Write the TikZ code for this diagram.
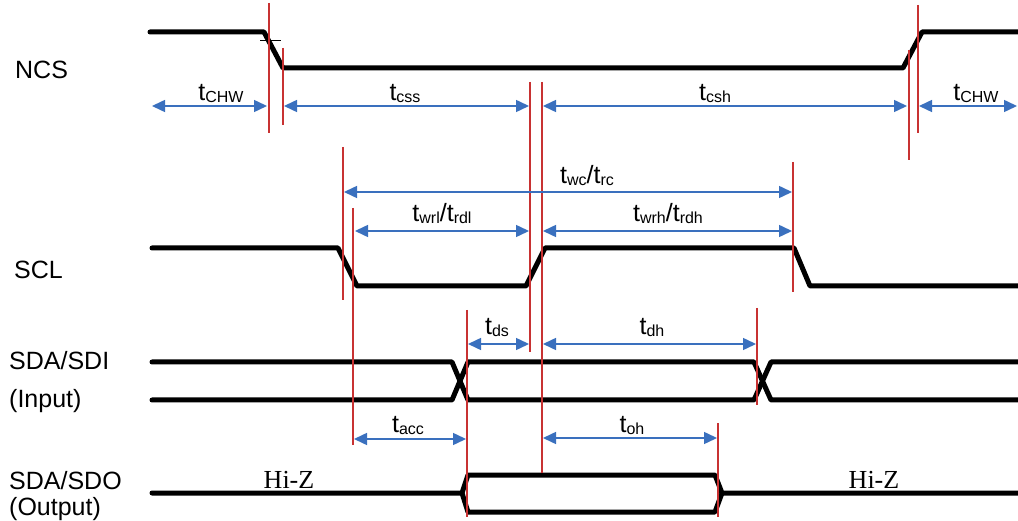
\documentclass[tikz,border=0pt]{standalone}
\usepackage{fontspec}
\setmainfont{Liberation Sans}
\newfontfamily\hizfont{Liberation Serif}
\usetikzlibrary{arrows.meta}
\definecolor{dimblue}{RGB}{58,112,190}
\definecolor{markred}{RGB}{200,50,50}
\newcommand{\tsub}[1]{t\raisebox{-2pt}{\fontsize{16}{16}\selectfont #1}}

\begin{document}
\begin{tikzpicture}[x=1pt,y=-1pt,
    sig/.style={line width=5pt,line cap=round,line join=round},
    redmark/.style={draw=markred,line width=1.1pt},
    tipblue/.tip={Triangle[length=13pt 0 0,width=12pt 0 0]},
    dim/.style={draw=dimblue,fill=dimblue,line width=1.5pt,tipblue-tipblue},
    siglbl/.style={font=\fontsize{25}{25}\selectfont,inner sep=0pt,anchor=base west},
    tlbl/.style={font=\fontsize{25}{25}\selectfont,inner sep=0pt,anchor=base},
    hiz/.style={font=\hizfont\fontsize{26}{26}\selectfont,inner sep=0pt,anchor=base}]
  \fill[white] (0,0) rectangle (1018,521);
  \useasboundingbox (0,0) rectangle (1018,521);

  % signal names
  \node[siglbl] (ncs) at (15,79) {NCS};
  \node[siglbl] (scl) at (14,279) {SCL};
  \node[siglbl] (sdi) at (9,370) {SDA/SDI};
  \node[siglbl] (sdiin) at (9,407) {(Input)};
  \node[siglbl] (sdo) at (9,489) {SDA/SDO};
  \node[siglbl] (sdoout) at (9,515) {(Output)};

  % waveforms
  \draw[sig] (150,32) -- (264,32) -- (283,68) -- (903,68) -- (922,32) -- (1018,32);
  \draw[sig] (152,248) -- (338,248) -- (357,286) -- (526,286) -- (545,248)
    -- (794,248) -- (810,286) -- (1018,286);
  \draw[sig] (152,362) -- (452,362) -- (468,400) -- (754,400) -- (771,362) -- (1018,362);
  \draw[sig] (152,400) -- (452,400) -- (468,362) -- (754,362) -- (771,400) -- (1018,400);
  \draw[sig] (152,493) -- (462,493) -- (468,475) -- (715,475) -- (722,493) -- (1018,493);
  \draw[sig] (462,493) -- (468,512) -- (715,512) -- (722,493);
  \draw[line width=0.8pt] (260,40) -- (281,40);

  % timing marks
  \foreach \x/\ya/\yb in {269/3/133, 283/48/125, 343/147/300, 353/208/445,
      530/82/352, 542/82/473, 793/162/292, 909/50/160, 918/5/133,
      467/310/517, 757/308/405, 718/423/517}
    \draw[redmark] (\x,\ya) -- (\x,\yb);

  % timing arrows
  \draw[dim] (152,106) -- (267,106);
  \draw[dim] (284,106) -- (529,106);
  \draw[dim] (543,106) -- (907,106);
  \draw[dim] (919,106) -- (1017,106);
  \draw[dim] (344,192) -- (792,192);
  \draw[dim] (355,231) -- (529,231);
  \draw[dim] (543,231) -- (792,231);
  \draw[dim] (468,344) -- (529,344);
  \draw[dim] (543,344) -- (756,344);
  \draw[dim] (354,439) -- (466,439);
  \draw[dim] (543,438) -- (717,438);

  % timing labels
  \node[tlbl] (tchwa) at (221,101) {\tsub{CHW}};
  \node[tlbl] (tcss) at (405,101) {\tsub{css}};
  \node[tlbl] (tcsh) at (715,101) {\tsub{csh}};
  \node[tlbl] (tchwb) at (976,101) {\tsub{CHW}};
  \node[tlbl] (twc) at (587,184) {\tsub{wc}/\tsub{rc}};
  \node[tlbl] (twrl) at (442,222) {\tsub{wrl}/\tsub{rdl}};
  \node[tlbl] (twrh) at (668,222) {\tsub{wrh}/\tsub{rdh}};
  \node[tlbl] (tds) at (497,335) {\tsub{ds}};
  \node[tlbl] (tdh) at (652,335) {\tsub{dh}};
  \node[tlbl] (tacc) at (408,432) {\tsub{acc}};
  \node[tlbl] (toh) at (632,432) {\tsub{oh}};

  % high impedance
  \node[hiz] (hiza) at (289,488) {Hi-Z};
  \node[hiz] (hizb) at (874,488) {Hi-Z};
\end{tikzpicture}
\end{document}
